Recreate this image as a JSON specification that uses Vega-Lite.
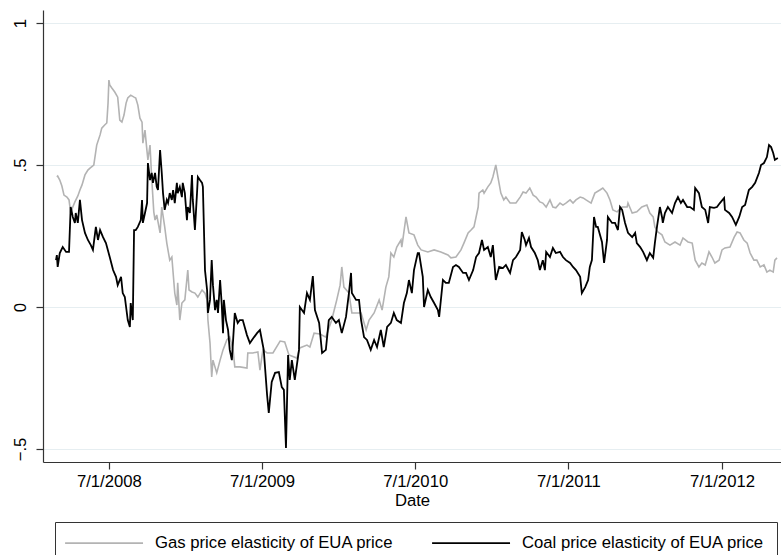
{
"$schema": "https://vega.github.io/schema/vega-lite/v6.json",
"width": 738,
"height": 452,
"autosize": {"type": "none"},
"padding": {"left": 43, "top": 10, "right": 0, "bottom": 93},
"background": "white",
"config": {"view": {"stroke": null}, "font": "Liberation Sans"},
"datasets": {
"gas": [
{"d":"2008-02-28","v":0.458},{"d":"2008-03-01","v":0.461},{"d":"2008-03-06","v":0.447},{"d":"2008-03-11","v":0.426},{"d":"2008-03-16","v":0.394},{"d":"2008-03-23","v":0.387},{"d":"2008-03-28","v":0.377},{"d":"2008-04-01","v":0.331},{"d":"2008-04-06","v":0.352},{"d":"2008-04-11","v":0.370},{"d":"2008-04-18","v":0.391},{"d":"2008-04-23","v":0.412},{"d":"2008-04-28","v":0.430},{"d":"2008-05-05","v":0.465},{"d":"2008-05-12","v":0.482},{"d":"2008-05-17","v":0.489},{"d":"2008-05-26","v":0.500},{"d":"2008-06-02","v":0.570},{"d":"2008-06-10","v":0.606},{"d":"2008-06-14","v":0.630},{"d":"2008-06-21","v":0.641},{"d":"2008-06-26","v":0.648},{"d":"2008-06-29","v":0.718},{"d":"2008-07-01","v":0.799},{"d":"2008-07-03","v":0.782},{"d":"2008-07-08","v":0.771},{"d":"2008-07-15","v":0.757},{"d":"2008-07-22","v":0.739},{"d":"2008-07-27","v":0.658},{"d":"2008-08-01","v":0.651},{"d":"2008-08-06","v":0.676},{"d":"2008-08-11","v":0.718},{"d":"2008-08-15","v":0.736},{"d":"2008-08-22","v":0.746},{"d":"2008-08-30","v":0.739},{"d":"2008-09-03","v":0.736},{"d":"2008-09-08","v":0.711},{"d":"2008-09-13","v":0.665},{"d":"2008-09-18","v":0.651},{"d":"2008-09-20","v":0.577},{"d":"2008-09-25","v":0.623},{"d":"2008-09-30","v":0.546},{"d":"2008-10-02","v":0.518},{"d":"2008-10-07","v":0.570},{"d":"2008-10-11","v":0.454},{"d":"2008-10-16","v":0.335},{"d":"2008-10-19","v":0.306},{"d":"2008-10-23","v":0.324},{"d":"2008-10-31","v":0.261},{"d":"2008-11-04","v":0.352},{"d":"2008-11-11","v":0.282},{"d":"2008-11-16","v":0.225},{"d":"2008-11-23","v":0.165},{"d":"2008-11-28","v":0.176},{"d":"2008-12-05","v":0.049},{"d":"2008-12-10","v":0.007},{"d":"2008-12-12","v":0.085},{"d":"2008-12-17","v":-0.046},{"d":"2008-12-22","v":0.014},{"d":"2008-12-29","v":0.025},{"d":"2009-01-05","v":0.130},{"d":"2009-01-08","v":0.060},{"d":"2009-01-15","v":0.053},{"d":"2009-01-22","v":0.049},{"d":"2009-01-29","v":0.035},{"d":"2009-02-08","v":0.060},{"d":"2009-02-15","v":0.049},{"d":"2009-02-20","v":0.025},{"d":"2009-02-22","v":-0.046},{"d":"2009-02-27","v":-0.127},{"d":"2009-03-03","v":-0.246},{"d":"2009-03-06","v":-0.187},{"d":"2009-03-15","v":-0.232},{"d":"2009-03-23","v":-0.187},{"d":"2009-03-30","v":-0.151},{"d":"2009-04-08","v":-0.116},{"d":"2009-04-15","v":-0.106},{"d":"2009-04-23","v":-0.151},{"d":"2009-04-27","v":-0.211},{"d":"2009-05-09","v":-0.211},{"d":"2009-05-26","v":-0.215},{"d":"2009-05-28","v":-0.162},{"d":"2009-06-09","v":-0.162},{"d":"2009-06-21","v":-0.158},{"d":"2009-06-26","v":-0.222},{"d":"2009-07-03","v":-0.151},{"d":"2009-07-13","v":-0.162},{"d":"2009-07-27","v":-0.162},{"d":"2009-08-13","v":-0.120},{"d":"2009-08-24","v":-0.123},{"d":"2009-09-03","v":-0.169},{"d":"2009-09-22","v":-0.180},{"d":"2009-09-29","v":-0.144},{"d":"2009-10-16","v":-0.134},{"d":"2009-10-23","v":-0.141},{"d":"2009-11-02","v":-0.092},{"d":"2009-11-16","v":-0.095},{"d":"2009-11-30","v":-0.106},{"d":"2009-12-14","v":-0.046},{"d":"2009-12-26","v":0.025},{"d":"2010-01-03","v":0.077},{"d":"2010-01-07","v":0.141},{"d":"2010-01-12","v":0.070},{"d":"2010-01-24","v":0.049},{"d":"2010-01-31","v":-0.021},{"d":"2010-02-10","v":-0.021},{"d":"2010-02-22","v":-0.021},{"d":"2010-03-06","v":-0.081},{"d":"2010-03-13","v":-0.046},{"d":"2010-03-25","v":-0.021},{"d":"2010-04-06","v":0.025},{"d":"2010-04-13","v":-0.011},{"d":"2010-04-22","v":0.070},{"d":"2010-04-29","v":0.106},{"d":"2010-05-04","v":0.190},{"d":"2010-05-11","v":0.176},{"d":"2010-05-18","v":0.211},{"d":"2010-05-28","v":0.236},{"d":"2010-05-30","v":0.211},{"d":"2010-06-09","v":0.317},{"d":"2010-06-16","v":0.261},{"d":"2010-06-28","v":0.254},{"d":"2010-07-07","v":0.218},{"d":"2010-07-15","v":0.201},{"d":"2010-07-31","v":0.194},{"d":"2010-08-15","v":0.201},{"d":"2010-08-31","v":0.194},{"d":"2010-09-17","v":0.183},{"d":"2010-09-24","v":0.173},{"d":"2010-10-06","v":0.176},{"d":"2010-10-18","v":0.201},{"d":"2010-10-25","v":0.225},{"d":"2010-11-04","v":0.261},{"d":"2010-11-11","v":0.271},{"d":"2010-11-18","v":0.282},{"d":"2010-11-28","v":0.352},{"d":"2010-11-30","v":0.401},{"d":"2010-12-09","v":0.412},{"d":"2010-12-12","v":0.401},{"d":"2010-12-21","v":0.423},{"d":"2010-12-28","v":0.437},{"d":"2011-01-02","v":0.458},{"d":"2011-01-09","v":0.500},{"d":"2011-01-14","v":0.458},{"d":"2011-01-21","v":0.401},{"d":"2011-01-28","v":0.377},{"d":"2011-02-02","v":0.387},{"d":"2011-02-12","v":0.366},{"d":"2011-02-26","v":0.366},{"d":"2011-03-08","v":0.387},{"d":"2011-03-15","v":0.405},{"d":"2011-03-22","v":0.401},{"d":"2011-03-31","v":0.419},{"d":"2011-04-08","v":0.394},{"d":"2011-04-15","v":0.387},{"d":"2011-04-24","v":0.370},{"d":"2011-05-01","v":0.366},{"d":"2011-05-09","v":0.352},{"d":"2011-05-18","v":0.377},{"d":"2011-05-25","v":0.352},{"d":"2011-06-01","v":0.349},{"d":"2011-06-11","v":0.366},{"d":"2011-06-18","v":0.359},{"d":"2011-06-25","v":0.366},{"d":"2011-07-05","v":0.377},{"d":"2011-07-12","v":0.366},{"d":"2011-07-19","v":0.377},{"d":"2011-07-29","v":0.387},{"d":"2011-08-05","v":0.384},{"d":"2011-08-12","v":0.377},{"d":"2011-08-24","v":0.366},{"d":"2011-09-02","v":0.401},{"d":"2011-09-14","v":0.412},{"d":"2011-09-21","v":0.419},{"d":"2011-10-01","v":0.401},{"d":"2011-10-08","v":0.377},{"d":"2011-10-15","v":0.342},{"d":"2011-10-25","v":0.335},{"d":"2011-11-06","v":0.352},{"d":"2011-11-18","v":0.352},{"d":"2011-11-20","v":0.366},{"d":"2011-11-30","v":0.331},{"d":"2011-12-11","v":0.335},{"d":"2011-12-23","v":0.352},{"d":"2012-01-04","v":0.359},{"d":"2012-01-11","v":0.331},{"d":"2012-01-19","v":0.317},{"d":"2012-01-23","v":0.282},{"d":"2012-01-30","v":0.264},{"d":"2012-02-09","v":0.254},{"d":"2012-02-16","v":0.229},{"d":"2012-02-28","v":0.218},{"d":"2012-03-11","v":0.229},{"d":"2012-03-23","v":0.218},{"d":"2012-03-30","v":0.243},{"d":"2012-04-11","v":0.229},{"d":"2012-04-21","v":0.225},{"d":"2012-04-28","v":0.165},{"d":"2012-05-07","v":0.141},{"d":"2012-05-14","v":0.155},{"d":"2012-05-22","v":0.148},{"d":"2012-05-31","v":0.194},{"d":"2012-06-07","v":0.176},{"d":"2012-06-14","v":0.155},{"d":"2012-06-24","v":0.165},{"d":"2012-07-01","v":0.201},{"d":"2012-07-08","v":0.208},{"d":"2012-07-20","v":0.211},{"d":"2012-07-30","v":0.246},{"d":"2012-08-06","v":0.264},{"d":"2012-08-13","v":0.261},{"d":"2012-08-22","v":0.236},{"d":"2012-08-30","v":0.225},{"d":"2012-09-06","v":0.190},{"d":"2012-09-15","v":0.165},{"d":"2012-09-22","v":0.165},{"d":"2012-09-30","v":0.141},{"d":"2012-10-09","v":0.148},{"d":"2012-10-16","v":0.123},{"d":"2012-10-23","v":0.130},{"d":"2012-10-31","v":0.123},{"d":"2012-11-04","v":0.165},{"d":"2012-11-09","v":0.173}
],
"coal": [
{"d":"2008-02-26","v":0.165},{"d":"2008-02-28","v":0.183},{"d":"2008-03-01","v":0.141},{"d":"2008-03-06","v":0.190},{"d":"2008-03-13","v":0.211},{"d":"2008-03-21","v":0.194},{"d":"2008-03-28","v":0.194},{"d":"2008-04-01","v":0.352},{"d":"2008-04-06","v":0.317},{"d":"2008-04-11","v":0.296},{"d":"2008-04-13","v":0.331},{"d":"2008-04-18","v":0.296},{"d":"2008-04-23","v":0.377},{"d":"2008-04-28","v":0.306},{"d":"2008-05-05","v":0.261},{"d":"2008-05-12","v":0.236},{"d":"2008-05-19","v":0.218},{"d":"2008-05-24","v":0.201},{"d":"2008-05-31","v":0.282},{"d":"2008-06-05","v":0.236},{"d":"2008-06-10","v":0.271},{"d":"2008-06-17","v":0.246},{"d":"2008-06-24","v":0.225},{"d":"2008-07-03","v":0.176},{"d":"2008-07-11","v":0.130},{"d":"2008-07-18","v":0.106},{"d":"2008-07-22","v":0.077},{"d":"2008-07-30","v":0.106},{"d":"2008-08-03","v":0.049},{"d":"2008-08-08","v":0.035},{"d":"2008-08-11","v":0.000},{"d":"2008-08-15","v":-0.046},{"d":"2008-08-20","v":-0.070},{"d":"2008-08-22","v":0.014},{"d":"2008-08-27","v":-0.046},{"d":"2008-08-30","v":0.271},{"d":"2008-09-03","v":0.271},{"d":"2008-09-08","v":0.282},{"d":"2008-09-15","v":0.306},{"d":"2008-09-18","v":0.377},{"d":"2008-09-20","v":0.296},{"d":"2008-09-25","v":0.331},{"d":"2008-09-30","v":0.366},{"d":"2008-10-02","v":0.507},{"d":"2008-10-07","v":0.447},{"d":"2008-10-11","v":0.472},{"d":"2008-10-14","v":0.437},{"d":"2008-10-19","v":0.472},{"d":"2008-10-23","v":0.423},{"d":"2008-10-26","v":0.412},{"d":"2008-10-31","v":0.553},{"d":"2008-11-04","v":0.472},{"d":"2008-11-07","v":0.401},{"d":"2008-11-11","v":0.342},{"d":"2008-11-16","v":0.377},{"d":"2008-11-19","v":0.366},{"d":"2008-11-23","v":0.401},{"d":"2008-11-28","v":0.377},{"d":"2008-12-01","v":0.412},{"d":"2008-12-05","v":0.366},{"d":"2008-12-10","v":0.437},{"d":"2008-12-12","v":0.401},{"d":"2008-12-17","v":0.423},{"d":"2008-12-22","v":0.387},{"d":"2008-12-24","v":0.437},{"d":"2008-12-29","v":0.401},{"d":"2009-01-03","v":0.306},{"d":"2009-01-05","v":0.352},{"d":"2009-01-10","v":0.331},{"d":"2009-01-15","v":0.465},{"d":"2009-01-17","v":0.377},{"d":"2009-01-22","v":0.271},{"d":"2009-01-27","v":0.401},{"d":"2009-01-29","v":0.458},{"d":"2009-02-03","v":0.447},{"d":"2009-02-08","v":0.437},{"d":"2009-02-10","v":0.423},{"d":"2009-02-15","v":0.130},{"d":"2009-02-20","v":0.060},{"d":"2009-02-22","v":-0.021},{"d":"2009-02-27","v":0.025},{"d":"2009-03-03","v":0.165},{"d":"2009-03-06","v":0.077},{"d":"2009-03-11","v":-0.011},{"d":"2009-03-15","v":0.025},{"d":"2009-03-18","v":-0.021},{"d":"2009-03-23","v":0.095},{"d":"2009-03-27","v":0.007},{"d":"2009-03-30","v":-0.092},{"d":"2009-04-01","v":0.025},{"d":"2009-04-06","v":-0.046},{"d":"2009-04-11","v":-0.081},{"d":"2009-04-15","v":-0.151},{"d":"2009-04-20","v":-0.187},{"d":"2009-04-27","v":-0.021},{"d":"2009-05-04","v":-0.056},{"d":"2009-05-09","v":-0.046},{"d":"2009-05-16","v":-0.046},{"d":"2009-05-26","v":-0.099},{"d":"2009-06-02","v":-0.127},{"d":"2009-06-12","v":-0.106},{"d":"2009-06-19","v":-0.092},{"d":"2009-06-26","v":-0.081},{"d":"2009-07-05","v":-0.151},{"d":"2009-07-13","v":-0.310},{"d":"2009-07-17","v":-0.373},{"d":"2009-07-24","v":-0.264},{"d":"2009-08-01","v":-0.232},{"d":"2009-08-10","v":-0.229},{"d":"2009-08-17","v":-0.282},{"d":"2009-08-22","v":-0.292},{"d":"2009-08-27","v":-0.496},{"d":"2009-09-01","v":-0.169},{"d":"2009-09-05","v":-0.257},{"d":"2009-09-10","v":-0.187},{"d":"2009-09-17","v":-0.257},{"d":"2009-09-27","v":-0.151},{"d":"2009-09-29","v":0.000},{"d":"2009-10-09","v":-0.021},{"d":"2009-10-16","v":0.049},{"d":"2009-10-23","v":0.025},{"d":"2009-10-30","v":0.109},{"d":"2009-11-04","v":-0.011},{"d":"2009-11-14","v":-0.056},{"d":"2009-11-21","v":-0.162},{"d":"2009-11-30","v":-0.151},{"d":"2009-12-07","v":-0.046},{"d":"2009-12-14","v":-0.035},{"d":"2009-12-24","v":-0.056},{"d":"2009-12-31","v":-0.046},{"d":"2010-01-07","v":-0.092},{"d":"2010-01-17","v":-0.035},{"d":"2010-01-24","v":0.049},{"d":"2010-01-29","v":0.120},{"d":"2010-01-31","v":0.049},{"d":"2010-02-10","v":0.025},{"d":"2010-02-17","v":0.025},{"d":"2010-02-22","v":-0.046},{"d":"2010-03-01","v":-0.106},{"d":"2010-03-08","v":-0.116},{"d":"2010-03-17","v":-0.151},{"d":"2010-03-25","v":-0.116},{"d":"2010-04-01","v":-0.141},{"d":"2010-04-10","v":-0.081},{"d":"2010-04-17","v":-0.141},{"d":"2010-04-25","v":-0.070},{"d":"2010-05-04","v":-0.056},{"d":"2010-05-11","v":-0.021},{"d":"2010-05-18","v":-0.046},{"d":"2010-05-28","v":-0.056},{"d":"2010-06-04","v":0.014},{"d":"2010-06-11","v":0.049},{"d":"2010-06-16","v":0.095},{"d":"2010-06-23","v":0.049},{"d":"2010-06-28","v":0.130},{"d":"2010-07-07","v":0.190},{"d":"2010-07-10","v":0.190},{"d":"2010-07-19","v":0.106},{"d":"2010-07-22","v":0.000},{"d":"2010-07-31","v":0.060},{"d":"2010-08-07","v":0.035},{"d":"2010-08-15","v":0.014},{"d":"2010-08-24","v":-0.011},{"d":"2010-08-27","v":-0.035},{"d":"2010-09-05","v":0.095},{"d":"2010-09-12","v":0.085},{"d":"2010-09-19","v":0.085},{"d":"2010-09-29","v":0.141},{"d":"2010-10-06","v":0.148},{"d":"2010-10-13","v":0.141},{"d":"2010-10-23","v":0.120},{"d":"2010-10-30","v":0.120},{"d":"2010-11-06","v":0.095},{"d":"2010-11-16","v":0.130},{"d":"2010-11-23","v":0.176},{"d":"2010-11-30","v":0.190},{"d":"2010-12-07","v":0.236},{"d":"2010-12-12","v":0.201},{"d":"2010-12-21","v":0.211},{"d":"2010-12-28","v":0.176},{"d":"2011-01-02","v":0.218},{"d":"2011-01-09","v":0.095},{"d":"2011-01-17","v":0.141},{"d":"2011-01-26","v":0.137},{"d":"2011-02-02","v":0.148},{"d":"2011-02-12","v":0.120},{"d":"2011-02-19","v":0.165},{"d":"2011-02-26","v":0.176},{"d":"2011-03-08","v":0.201},{"d":"2011-03-12","v":0.264},{"d":"2011-03-19","v":0.236},{"d":"2011-03-22","v":0.218},{"d":"2011-03-29","v":0.243},{"d":"2011-04-03","v":0.211},{"d":"2011-04-12","v":0.190},{"d":"2011-04-19","v":0.165},{"d":"2011-04-24","v":0.130},{"d":"2011-05-01","v":0.165},{"d":"2011-05-06","v":0.130},{"d":"2011-05-09","v":0.194},{"d":"2011-05-18","v":0.176},{"d":"2011-05-25","v":0.208},{"d":"2011-06-01","v":0.190},{"d":"2011-06-11","v":0.194},{"d":"2011-06-18","v":0.176},{"d":"2011-06-25","v":0.165},{"d":"2011-07-05","v":0.155},{"d":"2011-07-12","v":0.141},{"d":"2011-07-19","v":0.130},{"d":"2011-07-29","v":0.106},{"d":"2011-08-02","v":0.049},{"d":"2011-08-10","v":0.070},{"d":"2011-08-17","v":0.095},{"d":"2011-08-21","v":0.141},{"d":"2011-08-26","v":0.165},{"d":"2011-08-31","v":0.317},{"d":"2011-09-05","v":0.282},{"d":"2011-09-09","v":0.282},{"d":"2011-09-19","v":0.229},{"d":"2011-09-24","v":0.155},{"d":"2011-10-01","v":0.236},{"d":"2011-10-03","v":0.317},{"d":"2011-10-13","v":0.296},{"d":"2011-10-20","v":0.296},{"d":"2011-10-27","v":0.271},{"d":"2011-11-01","v":0.352},{"d":"2011-11-06","v":0.342},{"d":"2011-11-13","v":0.296},{"d":"2011-11-20","v":0.261},{"d":"2011-11-30","v":0.246},{"d":"2011-12-07","v":0.261},{"d":"2011-12-11","v":0.225},{"d":"2011-12-19","v":0.211},{"d":"2011-12-26","v":0.194},{"d":"2012-01-04","v":0.165},{"d":"2012-01-11","v":0.190},{"d":"2012-01-19","v":0.173},{"d":"2012-01-23","v":0.225},{"d":"2012-01-28","v":0.282},{"d":"2012-02-04","v":0.352},{"d":"2012-02-09","v":0.317},{"d":"2012-02-11","v":0.296},{"d":"2012-02-16","v":0.331},{"d":"2012-02-23","v":0.352},{"d":"2012-03-04","v":0.331},{"d":"2012-03-11","v":0.366},{"d":"2012-03-18","v":0.387},{"d":"2012-03-25","v":0.366},{"d":"2012-03-30","v":0.377},{"d":"2012-04-09","v":0.352},{"d":"2012-04-16","v":0.352},{"d":"2012-04-25","v":0.342},{"d":"2012-04-28","v":0.419},{"d":"2012-05-07","v":0.401},{"d":"2012-05-14","v":0.352},{"d":"2012-05-22","v":0.342},{"d":"2012-05-29","v":0.296},{"d":"2012-06-02","v":0.352},{"d":"2012-06-12","v":0.349},{"d":"2012-06-19","v":0.352},{"d":"2012-06-26","v":0.366},{"d":"2012-07-06","v":0.384},{"d":"2012-07-08","v":0.342},{"d":"2012-07-18","v":0.331},{"d":"2012-07-25","v":0.317},{"d":"2012-08-03","v":0.289},{"d":"2012-08-11","v":0.317},{"d":"2012-08-18","v":0.352},{"d":"2012-08-25","v":0.359},{"d":"2012-09-03","v":0.412},{"d":"2012-09-11","v":0.423},{"d":"2012-09-18","v":0.437},{"d":"2012-09-27","v":0.472},{"d":"2012-10-02","v":0.500},{"d":"2012-10-09","v":0.507},{"d":"2012-10-16","v":0.528},{"d":"2012-10-21","v":0.570},{"d":"2012-10-26","v":0.563},{"d":"2012-10-31","v":0.542},{"d":"2012-11-04","v":0.518},{"d":"2012-11-11","v":0.525}
]
},
"encoding": {
"x": {"field": "d", "type": "temporal",
 "scale": {"type": "utc", "domain": [{"year": 2008, "month": 1, "date": 26, "utc": true}, {"year": 2012, "month": 11, "date": 18, "hours": 14, "utc": true}]},
 "axis": {"values": [{"year": 2008, "month": 7, "date": 1, "utc": true}, {"year": 2009, "month": 7, "date": 1, "utc": true}, {"year": 2010, "month": 7, "date": 1, "utc": true}, {"year": 2011, "month": 7, "date": 1, "utc": true}, {"year": 2012, "month": 7, "date": 1, "utc": true}],
  "labelExpr": "utcFormat(datum.value, '%-m/%-d/%Y')",
  "title": "Date", "grid": false, "tickSize": 7, "tickColor": "#333", "tickWidth": 1.2,
  "domainColor": "#333", "domainWidth": 1.2, "labelFontSize": 16.7, "labelColor": "#000", "labelFont": "Liberation Sans",
  "titleFontSize": 16.7, "titleFontWeight": "normal", "titleColor": "#000", "titleFont": "Liberation Sans",
  "labelPadding": 4, "titlePadding": 3, "labelFlush": false, "labelOverlap": false}},
"y": {"field": "v", "type": "quantitative",
 "scale": {"domain": [-0.5458, 1.0458], "nice": false, "zero": false},
 "axis": {"values": [-0.5, 0, 0.5, 1],
  "labelExpr": "datum.value == 1 ? '1' : datum.value == 0.5 ? '.5' : datum.value == 0 ? '0' : '\u2212.5'",
  "labelAngle": -90, "labelAlign": "center", "labelBaseline": "bottom",
  "title": null, "grid": true, "gridColor": "#e6eef1", "gridWidth": 1.2,
  "tickSize": 7, "tickColor": "#333", "tickWidth": 1.2, "domainColor": "#333", "domainWidth": 1.2,
  "labelFontSize": 16.7, "labelColor": "#000", "labelFont": "Liberation Sans", "labelPadding": 7, "labelFlush": false, "labelOverlap": false}}
},
"layer": [
{"data": {"name": "gas"}, "mark": {"type": "line", "strokeWidth": 1.6},
 "encoding": {"color": {"datum": "Gas price elasticity of EUA price",
  "scale": {"domain": ["Gas price elasticity of EUA price", "Coal price elasticity of EUA price"], "range": ["#b3b3b3", "#000000"]},
  "legend": {"orient": "none", "legendX": 12, "legendY": 512, "direction": "horizontal", "title": null,
   "symbolType": "M-1.4,0H8.6", "symbolSize": 243, "symbolStrokeWidth": 1.6,
   "labelFontSize": 16.7, "labelFont": "Liberation Sans", "labelColor": "#000", "labelOffset": 70, "labelLimit": 400,
   "columnPadding": 34, "padding": 12, "strokeColor": "#333", "fillColor": "white"}}}},
{"data": {"name": "coal"}, "mark": {"type": "line", "strokeWidth": 1.8},
 "encoding": {"color": {"datum": "Coal price elasticity of EUA price"}}}
]
}
